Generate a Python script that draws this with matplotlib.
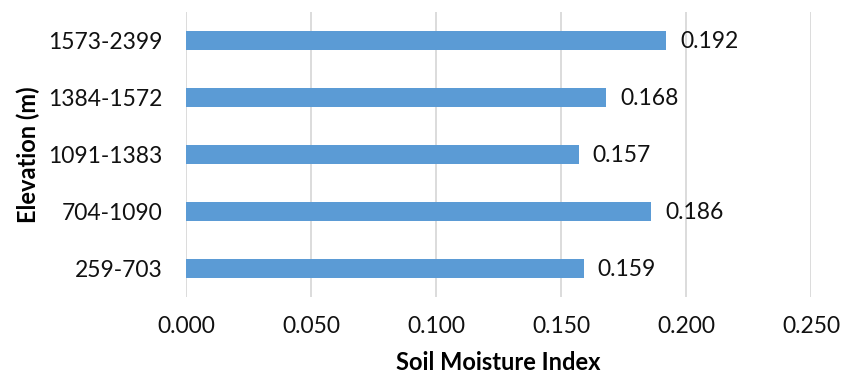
import matplotlib.pyplot as plt

elevations = ["259-703", "704-1090", "1091-1383", "1384-1572", "1573-2399"]
smi = [0.159, 0.186, 0.157, 0.168, 0.192]
xticks = [0.0, 0.05, 0.10, 0.15, 0.20, 0.25]

plt.rcParams["font.family"] = ["Lato", "DejaVu Sans"]

fig = plt.figure(figsize=(8.43, 3.81), dpi=100)
ax = fig.add_axes([186 / 843, 1 - 297 / 381, (811 - 186) / 843, (297 - 12) / 381])

ypos = range(len(elevations))
ax.barh(ypos, smi, height=0.35, color="#5B9BD5", zorder=3)
for y, v in zip(ypos, smi):
    ax.annotate(f"{v:.3f}", (v, y), xytext=(10, -1), textcoords="offset points",
                va="center", ha="left", fontsize=16.5, color="#111111")

ax.set_xlim(0, 0.25)
ax.set_ylim(-0.5, len(elevations) - 0.5)
ax.set_xticks(xticks)
ax.set_xticklabels([f"{t:.3f}" for t in xticks], fontsize=16.5, color="#111111")
ax.set_yticks(list(ypos))
ax.set_yticklabels(elevations, fontsize=16.5, color="#111111")
ax.tick_params(axis="both", length=0)
ax.tick_params(axis="x", pad=14)
ax.tick_params(axis="y", pad=17)
ax.grid(axis="x", color="#d9d9d9", linewidth=1.3, zorder=0)
for s in ax.spines.values():
    s.set_visible(False)

ax.set_xlabel("Soil Moisture Index", fontsize=17, fontweight="bold", labelpad=10)
ax.set_ylabel("Elevation (m)", fontsize=17, fontweight="bold", labelpad=6)

fig.savefig("out.png", dpi=100)
